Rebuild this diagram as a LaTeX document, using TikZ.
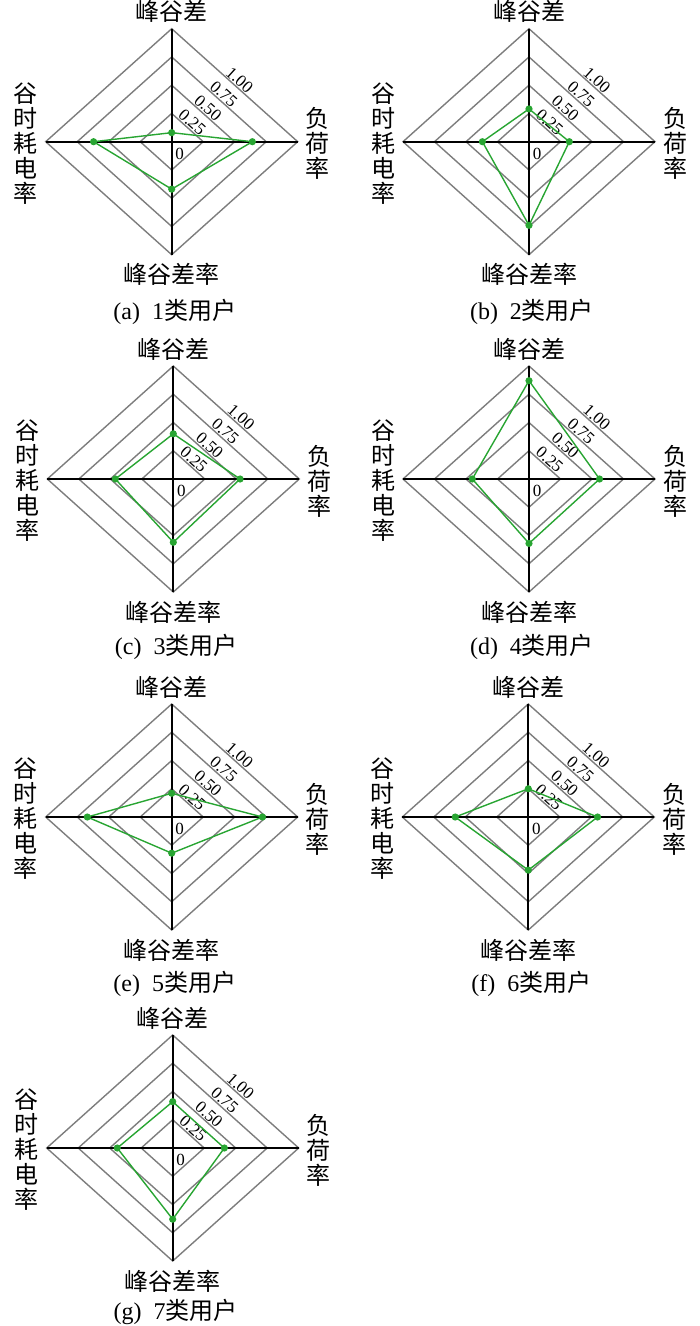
\documentclass[tikz,border=0pt]{standalone}
\usepackage{fontspec}
\setmainfont{Liberation Serif}
\newfontfamily\cjk{Noto Sans CJK SC}

\definecolor{ringgray}{RGB}{125,125,125}
\definecolor{datagreen}{RGB}{40,165,50}

\tikzset{
  ring/.style={draw=ringgray, line width=1.4pt, line join=miter},
  axisline/.style={draw=black, line width=1.7pt},
  dataline/.style={draw=datagreen, line width=1.4pt},
  datadot/.style={fill=datagreen},
  axislabel/.style={font=\cjk\fontsize{24}{25}\selectfont, inner sep=0pt, align=center},
  scalelabel/.style={font=\fontsize{17}{17}\selectfont, inner sep=1.2pt, anchor=south, rotate=-42},
  zerolabel/.style={font=\fontsize{17}{17}\selectfont, inner sep=0pt},
  caption/.style={font=\fontsize{24}{25}\selectfont, inner sep=0pt}
}

\begin{document}
\begin{tikzpicture}[x=1pt,y=-1pt]
  \useasboundingbox (0,0) rectangle (700,1326);
  \def\rx{126}
  \def\ry{113}

  \foreach \id/\cx/\cy/\capy/\vt/\vr/\vb/\vl/\lab/\num in {
      a/171.7/141.7/312/0.08/0.64/0.42/0.62/a/1,
      b/529/141.7/312/0.29/0.32/0.74/0.37/b/2,
      c/173.3/479/647/0.40/0.53/0.56/0.46/c/3,
      d/529/479/647/0.87/0.56/0.57/0.45/d/4,
      e/171.7/817/984/0.21/0.72/0.32/0.67/e/5,
      f/528.3/817/984/0.25/0.55/0.47/0.58/f/6,
      g/172.7/1148/1312/0.41/0.41/0.63/0.44/g/7}
  {
    % Draw rings
    \foreach \k in {0.25,0.5,0.75,1}
      \draw[ring] (\cx,\cy-\k*\ry) -- (\cx+\k*\rx,\cy) -- (\cx,\cy+\k*\ry) -- (\cx-\k*\rx,\cy) -- cycle;

    % Draw axes
    \draw[axisline] (\cx,\cy-\ry) -- (\cx,\cy+\ry);
    \draw[axisline] (\cx-\rx,\cy) -- (\cx+\rx,\cy);

    % Scale labels
    \foreach \k/\v [count=\i] in {0.25/0.25,0.5/0.50,0.75/0.75,1/1.00}
      \node[scalelabel] (\id-s\i) at (\cx+\k*\rx/2,\cy-\k*\ry/2) {\v};
    \node[zerolabel] (\id-s0) at (\cx+8,\cy+12) {0};

    % Data points
    \coordinate (\id-top) at (\cx,\cy-\vt*\ry);
    \coordinate (\id-right) at (\cx+\vr*\rx,\cy);
    \coordinate (\id-bottom) at (\cx,\cy+\vb*\ry);
    \coordinate (\id-left) at (\cx-\vl*\rx,\cy);
    \draw[dataline] (\id-top) -- (\id-right) -- (\id-bottom) -- (\id-left) -- cycle;
    \foreach \p in {top,right,bottom,left}
      \fill[datadot] (\id-\p) circle[radius=3.6pt];

    % Axis names
    \node[axislabel] (\id-pv) at (\cx,\cy-130) {峰谷差};
    \node[axislabel] (\id-lf) at (\cx+146,\cy+2) {负\\荷\\率};
    \node[axislabel] (\id-pvr) at (\cx,\cy+133) {峰谷差率};
    \node[axislabel] (\id-vr) at (\cx-146,\cy+2) {谷\\时\\耗\\电\\率};

    % Caption
    \node[caption] (\id-cap) at (\cx+3,\capy) {(\lab)\hspace{0.5em}\num{\cjk 类用户}};
  }
\end{tikzpicture}
\end{document}
